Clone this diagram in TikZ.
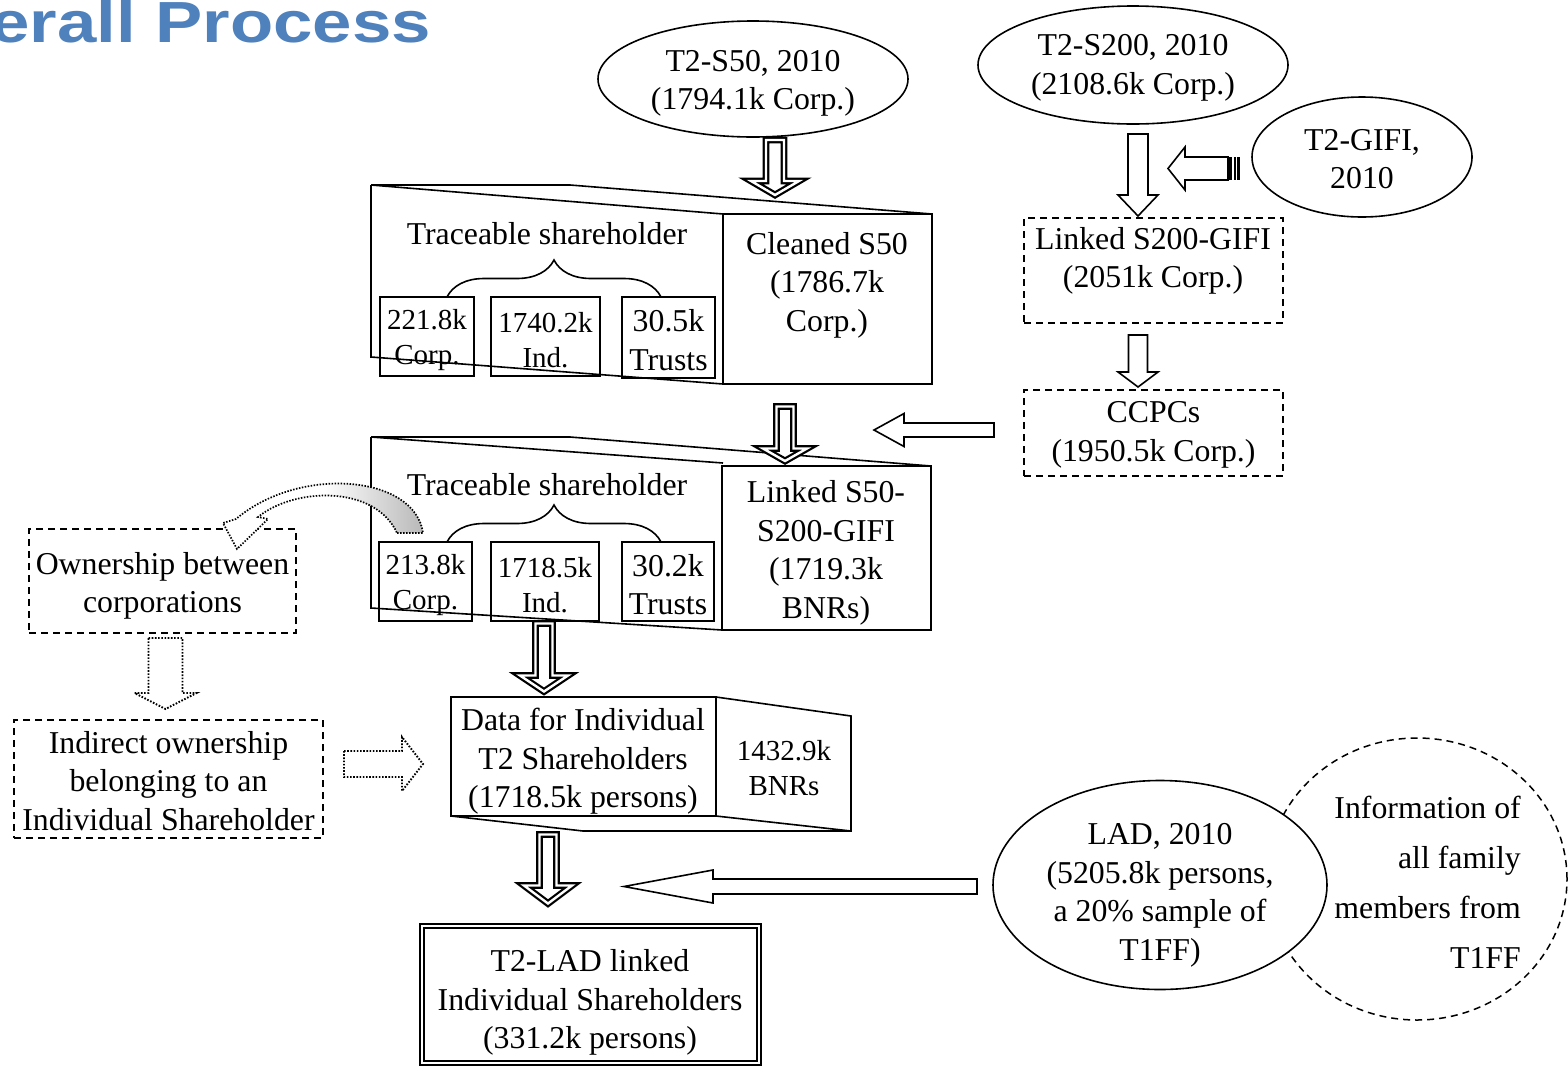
\documentclass[tikz,border=0pt]{standalone}
\usepackage{fontspec}
\setmainfont{Liberation Serif}
\newfontfamily\titlefont{Liberation Sans}
\usetikzlibrary{shapes.geometric,decorations.pathreplacing}
\definecolor{titleblue}{RGB}{79,129,189}
% style, x, ytop, yshoulder, ytip, shaft half, head half
\newcommand\varrow[7]{\draw[#1] (#2-#6,#3) -- (#2+#6,#3) -- (#2+#6,#4) -- (#2+#7,#4) -- (#2,#5) -- (#2-#7,#4) -- (#2-#6,#4) -- cycle;}
% style, y, xback, xshoulder, xtip, shaft half, head half
\newcommand\harrow[7]{\draw[#1] (#3,#2-#6) -- (#3,#2+#6) -- (#4,#2+#6) -- (#4,#2+#7) -- (#5,#2) -- (#4,#2-#7) -- (#4,#2-#6) -- cycle;}
\begin{document}
\begin{tikzpicture}[x=1pt,y=-1pt,
 every node/.style={inner sep=0pt, align=center, font=\fontsize{31.8}{38.5}\selectfont},
 smallfont/.style={font=\fontsize{29}{35}\selectfont},
 ln/.style={line width=1.6pt},
 box/.style={draw, line width=1.6pt, rectangle},
 dbox/.style={draw, rectangle, line width=1.5pt, dash pattern=on 7pt off 5pt},
 ell/.style={draw, ellipse, line width=1.6pt, fill=white},
 dblarr/.style={draw, fill=white, double=white, line width=2.2pt, double distance=2.4pt, line join=miter},
 sarr/.style={draw, fill=white, line width=1.6pt, line join=miter},
 dotarr/.style={draw, fill=white, line width=1.9pt, dash pattern=on 1.6pt off 1.6pt, line join=miter},
 brc/.style={decorate, decoration={brace, amplitude=37pt}, line width=1.6pt},
]
\useasboundingbox (0,0) rectangle (1568,1066);

% title
\node[anchor=base east, text=titleblue, font=\titlefont\bfseries\fontsize{58}{60}\selectfont] (title) at (431,42) {\scalebox{1.22}[1]{Overall Process}};

% top ellipses
\node[ell, minimum width=310, minimum height=116] (s50) at (753,79) {};
\node (s50t) at (753,83.5) {T2-S50, 2010\\(1794.1k Corp.)};
\node[ell, minimum width=310, minimum height=118] (s200) at (1133,65) {};
\node (s200t) at (1133,68) {T2-S200, 2010\\(2108.6k Corp.)};
\node[ell, minimum width=220, minimum height=120] (gifi) at (1362,157) {};
\node (gifit) at (1362,159) {T2-GIFI,\\2010};

% box 1 : cleaned S50
\draw[ln] (371,185) -- (723,214);
\draw[ln] (371,185) -- (570,185) -- (932,214);
\draw[ln] (371,185) -- (371,357) -- (723,384);
\node[box, minimum width=209, minimum height=170] (cln) at (827.5,299) {};
\node (clnt) at (827,285) {Cleaned S50\\(1786.7k\\Corp.)};
\node (tr1) at (547,234) {Traceable shareholder};
\node[box, minimum width=94, minimum height=79] (c1) at (427,336.5) {};
\node[smallfont] (c1t) at (427,340) {221.8k\\Corp.};
\node[box, minimum width=109, minimum height=79] (c2) at (545.5,336.5) {};
\node[smallfont] (c2t) at (545.5,340) {1740.2k\\Ind.};
\node[box, minimum width=93, minimum height=81] (c3) at (668.5,337.5) {};
\node (c3t) at (668.5,340) {30.5k\\Trusts};
\draw[brc] (447,297) -- (661,297);

% box 2 : linked S50-S200-GIFI
\draw[ln] (371,437) -- (723,463);
\draw[ln] (371,437) -- (570,437) -- (931,466);
\draw[ln] (371,437) -- (371,608) -- (722,630);
\node[box, minimum width=209, minimum height=164] (lnk50) at (826.5,548) {};
\node (lnk50t) at (826,553) {Linked S50-\\S200-GIFI\\(1719.3k\\BNRs)};
\node (tr2) at (547,485) {Traceable shareholder};
\node[box, minimum width=93, minimum height=79] (d1) at (425.5,581.5) {};
\node[smallfont] (d1t) at (425.5,585) {213.8k\\Corp.};
\node[box, minimum width=108, minimum height=79] (d2) at (545,581.5) {};
\node[smallfont] (d2t) at (545,585) {1718.5k\\Ind.};
\node[box, minimum width=92, minimum height=79] (d3) at (668,581.5) {};
\node (d3t) at (668,584.5) {30.2k\\Trusts};
\draw[brc] (447,542) -- (661,542);

% box 3 : data for individual
\node[box, minimum width=265, minimum height=119] (data) at (583.5,756.5) {};
\node (datat) at (583,761.5) {Data for Individual\\T2 Shareholders\\(1718.5k persons)};
\draw[ln, line join=miter] (716,697) -- (851,716) -- (851,831) -- (716,816);
\draw[ln] (451,816) -- (583,831) -- (851,831);
\node[smallfont] (bnr) at (784,768) {1432.9k\\BNRs};

% final box
\node[draw, double, line width=2pt, double distance=2pt, minimum width=337, minimum height=137] (t2lad) at (590.5,994.5) {};
\node (t2ladt) at (590,1002.5) {T2-LAD linked\\Individual Shareholders\\(331.2k persons)};

% dashed boxes
\node[dbox, minimum width=259, minimum height=105] (s2g) at (1153.5,270.5) {};
\node (s2gt) at (1153,261) {Linked S200-GIFI\\(2051k Corp.)};
\node[dbox, minimum width=259, minimum height=86] (ccpc) at (1153.5,433) {};
\node (ccpct) at (1153.5,435) {CCPCs\\(1950.5k Corp.)};
\node[dbox, minimum width=267, minimum height=104] (own) at (162.5,581) {};
\node (ownt) at (162.5,586) {Ownership between\\corporations};
\node[dbox, minimum width=309, minimum height=118] (ind) at (168.5,779) {};
\node (indt) at (168.5,781) {Indirect ownership\\belonging to an\\Individual Shareholder};

% LAD and family circle
\node[draw, ellipse, dash pattern=on 7pt off 5pt, line width=1.5pt, minimum width=300, minimum height=282] (fam) at (1417,879) {};
\node[ell, minimum width=334, minimum height=209] (lad) at (1160,885) {};
\node (ladt) at (1160,895.5) {LAD, 2010\\(5205.8k persons,\\a 20\% sample of\\T1FF)};
\node[anchor=east, align=right, font=\fontsize{31.8}{50}\selectfont] (famt) at (1521,882) {Information of\\all family\\members from\\T1FF};

% block arrows
\varrow{dblarr}{775}{140}{181}{195}{9}{24}
\varrow{dblarr}{785}{406.5}{448.5}{461}{8.5}{22}
\varrow{dblarr}{544}{623.5}{675.5}{691.5}{8.5}{24}
\varrow{dblarr}{548}{834.5}{885.5}{903.5}{8.5}{24}
\varrow{sarr}{1138}{134}{195}{216}{10}{20}
\varrow{sarr}{1138}{335}{372}{387}{9.5}{20}
\harrow{sarr}{168.5}{1228}{1185}{1168}{11.5}{21.5}
\fill (1229,157) rectangle (1232,180);
\fill (1233.5,157) rectangle (1235.5,180);
\fill (1237,157) rectangle (1240,180);
\harrow{sarr}{430}{994}{904}{874}{7}{16.5}
\harrow{sarr}{886.5}{977}{713}{624}{7.5}{16.5}
\varrow{dotarr}{165.5}{638}{693}{709}{17}{31}
\harrow{dotarr}{764}{344}{402}{423}{13}{27}

% curved dotted arrow
\shadedraw[line width=1.7pt, dash pattern=on 1.5pt off 1.5pt, left color=white, right color=gray!55, middle color=white]
 (397,533) -- (423,533) .. controls (415,475) and (300,465) .. (236,519) -- (223,523) -- (237,549) -- (268,519) -- (258,517) .. controls (295,487) and (375,485) .. (397,533) -- cycle;
\end{tikzpicture}
\end{document}
